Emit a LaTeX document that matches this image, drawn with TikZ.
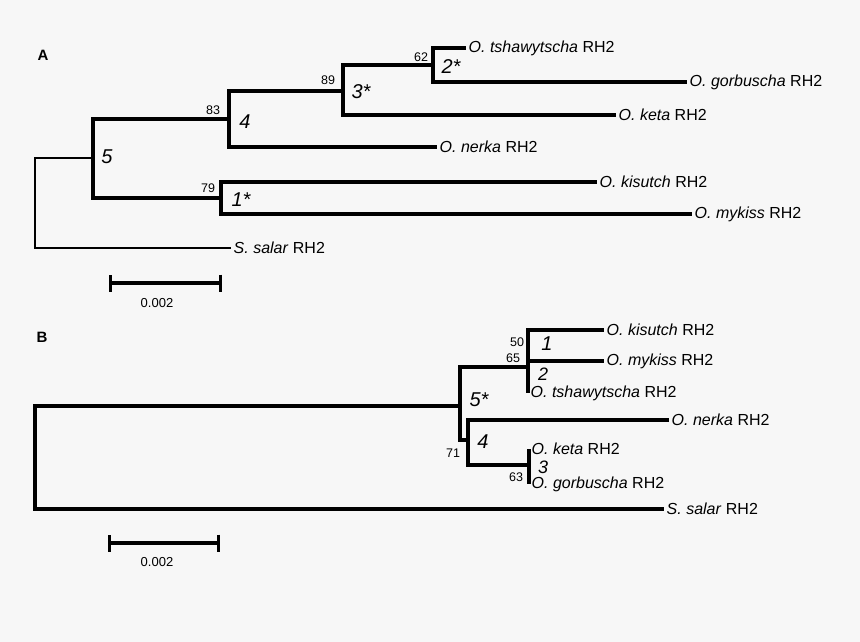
\documentclass[tikz,border=0pt]{standalone}
\usepackage{fontspec}
\setmainfont{Liberation Sans}
\usetikzlibrary{arrows.meta}
\definecolor{paper}{HTML}{F7F7F7}
\begin{document}
\begin{tikzpicture}[x=1pt,y=-1pt,
	branch/.style={line width=3.6pt, line join=miter},
	thinbranch/.style={line width=2.6pt, line join=miter},
	leaf/.style={anchor=west, inner xsep=2.5pt, inner ysep=0pt, font=\fontsize{16}{18}\selectfont},
	clade/.style={inner sep=0pt, font=\fontsize{20}{22}\selectfont\itshape},
	boot/.style={inner sep=0pt, font=\fontsize{12.5}{14}\selectfont},
	panel/.style={inner sep=0pt, font=\fontsize{15}{18}\selectfont\bfseries},
	scalebar/.style={line width=3.2pt, {Bar[width=17pt]}-{Bar[width=17pt]}}]
	\fill[paper] (0,0) rectangle (860,642);
	% panel A
	\node (labA) at ( 43,  55)	[panel]	{A};
	\coordinate (rootA) at ( 35, 203);
	\coordinate (a5) at ( 93, 158);
	\coordinate (a4) at (229, 119);
	\coordinate (a3) at (343,  91);
	\coordinate (a2) at (433,  65);
	\coordinate (a1) at (221, 198);
	\node (tshA) at (466,  48)	[leaf]	{\textit{O. tshawytscha} RH2};
	\node (gorA) at (687,  82)	[leaf]	{\textit{O. gorbuscha} RH2};
	\node (ketA) at (616, 115)	[leaf]	{\textit{O. keta} RH2};
	\node (nerA) at (437, 147)	[leaf]	{\textit{O. nerka} RH2};
	\node (kisA) at (597, 182)	[leaf]	{\textit{O. kisutch} RH2};
	\node (mykA) at (692, 214)	[leaf]	{\textit{O. mykiss} RH2};
	\node (salA) at (231, 248)	[leaf]	{\textit{S. salar} RH2};
	\draw[thinbranch] (rootA) |- (a5);
	\draw[thinbranch] (rootA) |- (salA);
	\draw[branch] (a5) |- (a4);
	\draw[branch] (a5) |- (a1);
	\draw[branch] (a4) |- (a3);
	\draw[branch] (a4) |- (nerA);
	\draw[branch] (a3) |- (a2);
	\draw[branch] (a3) |- (ketA);
	\draw[branch] (a2) |- (tshA);
	\draw[branch] (a2) |- (gorA);
	\draw[branch] (a1) |- (kisA);
	\draw[branch] (a1) |- (mykA);
	\node (cA5) at (107, 157)	[clade]	{5};
	\node (cA4) at (245, 122)	[clade]	{4};
	\node (cA3) at (361,  92)	[clade]	{3*};
	\node (cA2) at (451,  67)	[clade]	{2*};
	\node (cA1) at (241, 200)	[clade]	{1*};
	\node (bA4) at (213, 110)	[boot]	{83};
	\node (bA3) at (328,  80)	[boot]	{89};
	\node (bA2) at (421,  57)	[boot]	{62};
	\node (bA1) at (208, 188)	[boot]	{79};
	\coordinate (sbA1) at (109, 283);
	\coordinate (sbA2) at (222, 283);
	\draw[scalebar] (sbA1) -- (sbA2);
	\node (sbA) at (157, 303)	[boot, font=\fontsize{13}{15}\selectfont]	{0.002};
	% panel B
	\node (labB) at ( 42, 337)	[panel]	{B};
	\coordinate (rootB) at ( 35, 457);
	\coordinate (b5) at (460, 406);
	\coordinate (b12) at (528, 367);
	\coordinate (b4) at (468, 440);
	\coordinate (b3) at (529, 465);
	\node (kisB) at (604, 330)	[leaf]	{\textit{O. kisutch} RH2};
	\node (mykB) at (604, 361)	[leaf]	{\textit{O. mykiss} RH2};
	\node (tshB) at (528, 393)	[leaf]	{\textit{O. tshawytscha} RH2};
	\node (nerB) at (669, 420)	[leaf]	{\textit{O. nerka} RH2};
	\node (ketB) at (529, 449)	[leaf]	{\textit{O. keta} RH2};
	\node (gorB) at (529, 484)	[leaf]	{\textit{O. gorbuscha} RH2};
	\node (salB) at (664, 509)	[leaf]	{\textit{S. salar} RH2};
	\draw[branch] (rootB) |- (b5);
	\draw[branch] (rootB) |- (salB);
	\draw[branch] (b5) |- (b12);
	\draw[branch] (b5) |- (b4);
	\draw[branch] (b12) |- (kisB);
	\draw[branch] (b12) |- (mykB);
	\draw[branch] (b12) |- (tshB);
	\draw[branch] (b4) |- (nerB);
	\draw[branch] (b4) |- (b3);
	\draw[branch] (b3) |- (ketB);
	\draw[branch] (b3) |- (gorB);
	\node (cB5) at (479, 400)	[clade]	{5*};
	\node (cB1) at (547, 344)	[clade]	{1};
	\node (cB2) at (543, 374)	[clade, font=\fontsize{18}{20}\selectfont\itshape]	{2};
	\node (cB4) at (483, 442)	[clade]	{4};
	\node (cB3) at (543, 467)	[clade, font=\fontsize{18}{20}\selectfont\itshape]	{3};
	\node (bB1) at (517, 342)	[boot]	{50};
	\node (bB2) at (513, 358)	[boot]	{65};
	\node (bB4) at (453, 453)	[boot]	{71};
	\node (bB3) at (516, 477)	[boot]	{63};
	\coordinate (sbB1) at (108, 543);
	\coordinate (sbB2) at (220, 543);
	\draw[scalebar] (sbB1) -- (sbB2);
	\node (sbB) at (157, 562)	[boot, font=\fontsize{13}{15}\selectfont]	{0.002};
\end{tikzpicture}
\end{document}
